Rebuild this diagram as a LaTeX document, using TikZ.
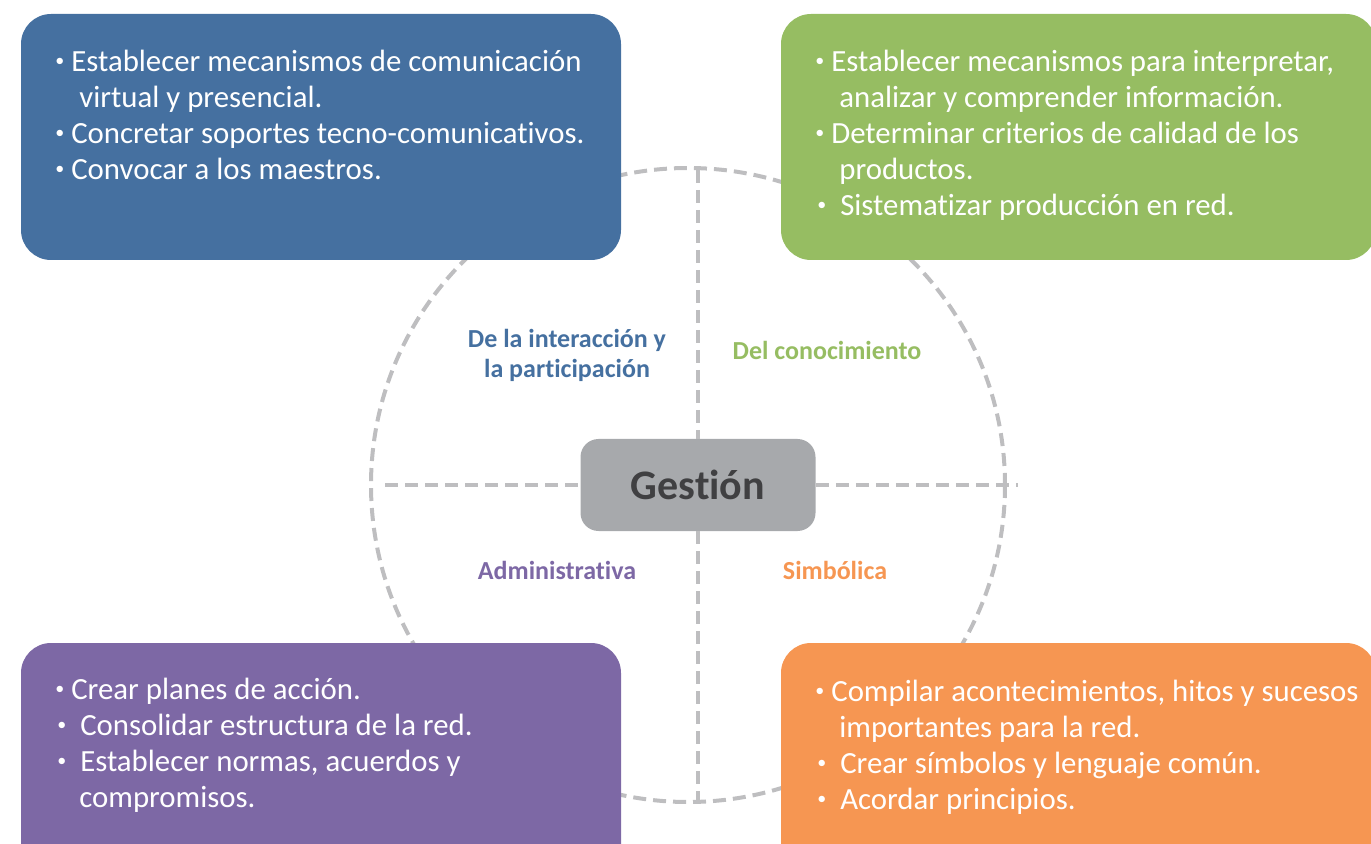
\documentclass[tikz,border=0pt]{standalone}
\usepackage{fontspec}
\setmainfont[Ligatures={NoCommon}]{Carlito}
\definecolor{azul}{RGB}{69,112,160}
\definecolor{verde}{RGB}{150,189,98}
\definecolor{morado}{RGB}{125,104,165}
\definecolor{naranja}{RGB}{246,150,82}
\definecolor{grisbox}{RGB}{167,169,172}
\definecolor{grislinea}{RGB}{190,190,192}
\definecolor{gristexto}{RGB}{64,64,66}
\newcommand{\punto}{\raisebox{0.35ex}{\fontsize{9}{9}\selectfont\textbullet}}
\begin{document}
\begin{tikzpicture}[x=0.5pt,y=-0.5pt,
    gris/.style={line width=2pt,color=grislinea,dash pattern=on 6.5pt off 3.5pt},
    caja/.style={rounded corners=15pt},
    texto/.style={anchor=north west,inner sep=0pt,align=left,text=white,font=\fontsize{15.4}{18}\selectfont},
    etiqueta/.style={inner sep=0pt,align=center,font=\bfseries\fontsize{13}{15}\selectfont}]
        \useasboundingbox (0,0) rectangle (1371,844);

        \coordinate (izq) at (385,485);
        \coordinate (der) at (1018,485);
        \coordinate (arr) at (698,170);
        \coordinate (aba) at (698,800);

        \draw[gris] (688,485) circle (317);

        \fill[azul,caja] (21,14) rectangle (621,260);
        \fill[verde,caja] (781,14) rectangle (1376,260);
        \fill[morado,caja] (21,643) rectangle (621,875);
        \fill[naranja,caja] (781,643) rectangle (1376,875);

        \node[texto] (t1) at (55,50) {\punto\ Establecer mecanismos de comunicación\\
            \hspace*{12pt}virtual y presencial.\\
            \punto\ Concretar soportes tecno-comunicativos.\\
            \punto\ Convocar a los maestros.};
        \node[texto] (t2) at (815,50) {\punto\ Establecer mecanismos para interpretar,\\
            \hspace*{12pt}analizar y comprender información.\\
            \punto\ Determinar criterios de calidad de los\\
            \hspace*{12pt}productos.\\
            \hspace*{1pt}\punto\ \ Sistematizar producción en red.};
        \node[texto] (t3) at (55,678) {\punto\ Crear planes de acción.\\
            \hspace*{1pt}\punto\ \ Consolidar estructura de la red.\\
            \hspace*{1pt}\punto\ \ Establecer normas, acuerdos y\\
            \hspace*{12pt}compromisos.};
        \node[texto] (t4) at (815,680) {\punto\ Compilar acontecimientos, hitos y sucesos\\
            \hspace*{12pt}importantes para la red.\\
            \hspace*{1pt}\punto\ \ Crear símbolos y lenguaje común.\\
            \hspace*{1pt}\punto\ \ Acordar principios.};

        \node[fill=grisbox,rounded corners=9pt,minimum width=117.5pt,minimum height=46pt,
            text=gristexto,font=\bfseries\fontsize{21}{26}\selectfont] (gestion) at (698,485) {Gestión};

        \draw[gris] (izq) -- (gestion.west);
        \draw[gris] (gestion.east) -- (der);
        \draw[gris] (arr) -- (gestion.north);
        \draw[gris] (gestion.south) -- (aba);

        \node[etiqueta,text=azul] (interaccion) at (567,355) {De la interacción y\\la participación};
        \node[etiqueta,text=verde] (conocimiento) at (827,350) {Del conocimiento};
        \node[etiqueta,text=morado] (administrativa) at (557,570) {Administrativa};
        \node[etiqueta,text=naranja] (simbolica) at (835,570) {Simbólica};
\end{tikzpicture}
\end{document}
